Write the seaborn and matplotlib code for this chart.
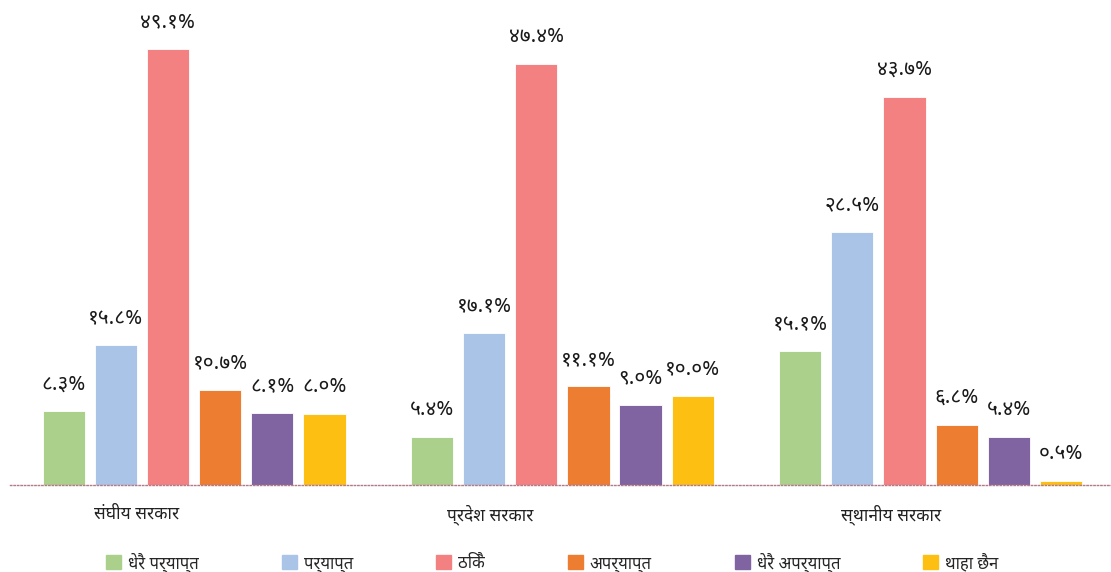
import matplotlib
matplotlib.use("Agg")
import matplotlib.pyplot as plt
import matplotlib.patches as mpatches
import matplotlib.transforms as mtransforms
import numpy as np
import pandas as pd
import seaborn as sns

# categories / series
groups = ['संघीय सरकार', 'प्रदेश सरकार', 'स्थानीय सरकार']
series = ['धेरै पर्याप्त', 'पर्याप्त', 'ठिकै', 'अपर्याप्त', 'धेरै अपर्याप्त', 'थाहा छैन']
colors = ['#ABD08B', '#AAC4E8', '#F48181', '#ED7D31', '#8064A2', '#FDBF12']

# values per series (one per group), in percent
dherai_paryapt = [8.3, 5.4, 15.1]
paryapt = [15.8, 17.1, 28.5]
thikai = [49.1, 47.4, 43.7]
aparyapt = [10.7, 11.1, 6.8]
dherai_aparyapt = [8.1, 9.0, 5.4]
thaha_chhaina = [8.0, 10.0, 0.5]

values = [dherai_paryapt, paryapt, thikai, aparyapt, dherai_aparyapt, thaha_chhaina]

rows = []
for s, vals in zip(series, values):
    for g, v in zip(groups, vals):
        rows.append({'group': g, 'series': s, 'value': v})
df = pd.DataFrame(rows)

sns.set_style("white")
fonts = ['Noto Sans Devanagari', 'Mukta', 'DejaVu Sans']
plt.rcParams['font.family'] = fonts

dev_digits = str.maketrans('0123456789', '०१२३४५६७८९')

fig = plt.figure(figsize=(11.11, 5.72), dpi=100)
ax = fig.add_axes([10 / 1111, 87 / 572, 1101 / 1111, 462 / 572])

sns.barplot(data=df, x='group', y='value', hue='series', order=groups,
            hue_order=series, palette=colors, width=0.85, gap=0.19,
            saturation=1, edgecolor='white', linewidth=0.6, ax=ax, legend=False)

for cont in ax.containers:
    labels = [("%.1f%%" % b.get_height()).translate(dev_digits) for b in cont]
    ax.bar_label(cont, labels=labels, padding=12, fontsize=15, color='#1a1a1a')

ax.set_xlim(-0.5, 2.49)
ax.set_ylim(0, 52)
ax.set_xlabel('')
ax.set_ylabel('')
ax.set_yticks([])
ax.tick_params(axis='x', length=0, labelsize=12.5, pad=14, colors='#222222')
# category labels in the original sit left of the group centre
shifts = [-58, -72, -40]
for lab, dx in zip(ax.get_xticklabels(), shifts):
    lab.set_transform(lab.get_transform() +
                      mtransforms.ScaledTranslation(dx / 100, 0, fig.dpi_scale_trans))
for side in ['top', 'right', 'left']:
    ax.spines[side].set_visible(False)
ax.spines['bottom'].set_color('#B07A86')
ax.spines['bottom'].set_linestyle((0, (1, 1.5)))
ax.spines['bottom'].set_linewidth(1.0)

handles = [mpatches.Patch(color=c, label=s) for s, c in zip(series, colors)]
fig.legend(handles=handles, loc='center', bbox_to_anchor=(0.497, 0.017),
           ncol=6, frameon=False, fontsize=12, handlelength=0.9, handleheight=0.9,
           handletextpad=0.4, columnspacing=5.0)

fig.savefig("out.png", dpi=100)
